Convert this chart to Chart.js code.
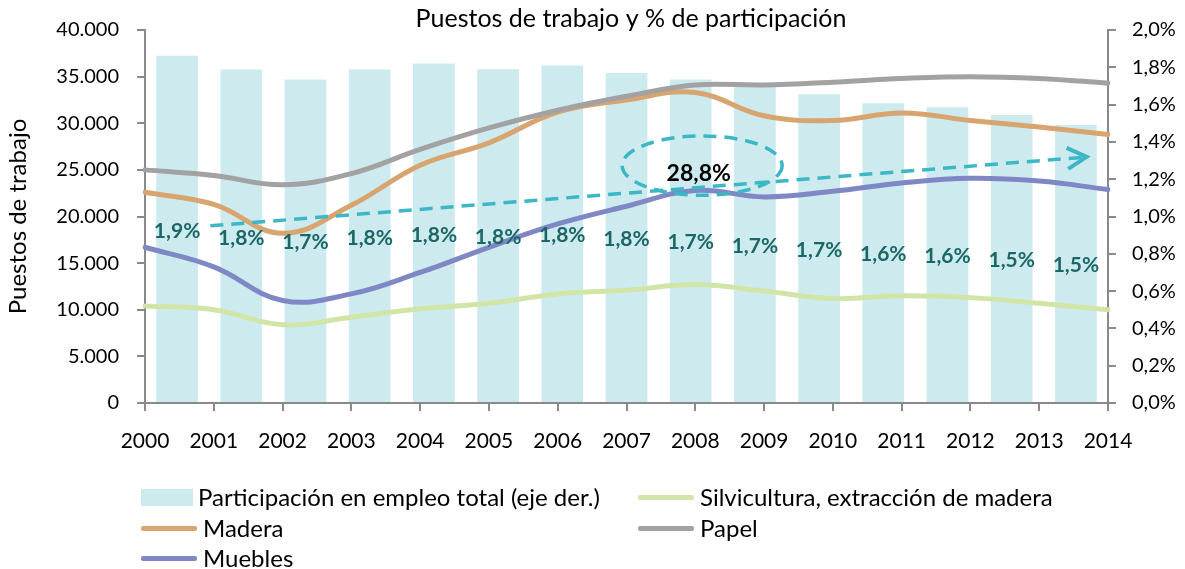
<!DOCTYPE html>
<html>
<head>
<meta charset="utf-8">
<script src="https://cdn.jsdelivr.net/npm/chart.js@4"></script>
<style>
  body { margin: 0; background: #fff; }
  #wrap { position: relative; width: 1185px; height: 569px; }
  #legend { position: absolute; left: 0; top: 0; width: 1185px; height: 569px; pointer-events: none;
            font-family: Lato, "Open Sans", sans-serif; font-size: 24px; color: #000; }
  .item { position: absolute; display: flex; align-items: center; white-space: nowrap; line-height: 28px; }
  .sw-bar { width: 52px; height: 17px; margin-right: 5px; }
  .sw-line { width: 56px; height: 5px; margin-right: 6px; border-radius: 2px; }
</style>
</head>
<body>
<div id="wrap">
  <canvas id="chart" width="1185" height="569"></canvas>
  <div id="legend"></div>
</div>
<script>
// Data
const years = ['2000', '2001', '2002', '2003', '2004', '2005', '2006', '2007', '2008', '2009', '2010', '2011', '2012', '2013', '2014'];
const participacion = [1.862, 1.788, 1.735, 1.788, 1.82, 1.79, 1.81, 1.77, 1.735, 1.698, 1.655, 1.607, 1.586, 1.544, 1.49];
const silvicultura = [10400, 10000, 8400, 9200, 10100, 10700, 11700, 12100, 12700, 12000, 11200, 11500, 11300, 10700, 10000];
const madera = [22600, 21300, 18200, 21200, 25500, 27900, 31200, 32500, 33300, 30800, 30300, 31100, 30300, 29600, 28800];
const papel = [25000, 24400, 23400, 24600, 27200, 29500, 31400, 32900, 34100, 34100, 34400, 34800, 35000, 34800, 34300];
const muebles = [16700, 14600, 11000, 11700, 14000, 16700, 19200, 21100, 22800, 22100, 22700, 23600, 24100, 23800, 22900];
const leftTicks = [0, 5000, 10000, 15000, 20000, 25000, 30000, 35000, 40000];
const rightTicks = [0, 0.2, 0.4, 0.6, 0.8, 1.0, 1.2, 1.4, 1.6, 1.8, 2.0];

// Annotation in data units (x = year index, y = left axis)
const trendArrow = { x0: 0.95, y0: 19000, x1: 13.69, y1: 26400 };
const highlight = { x: 8.1, y: 25460, rx: 1.163, ry: 3180, label: '28,8%', labelX: 8.05, labelY: 24550 };

const FONT = 'Lato, "Open Sans", sans-serif';
const AXIS = '#898989';
const TEAL = '#3bb7c6';

const colors = {
    bar: '#cdebef',
    silvicultura: '#d1e5a8',
    madera: '#d8a46f',
    papel: '#a2a2a2',
    muebles: '#7f88c4'
};

const fmtMiles = v => v.toString().replace(/\B(?=(\d{3})+(?!\d))/g, '.');
const fmtPct = v => v.toFixed(1).replace('.', ',') + '%';

// Bar labels, title, arrow and ellipse
const overlay = {
    id: 'overlay',
    afterDatasetsDraw(chart) {
        const ctx = chart.ctx;
        const meta = chart.getDatasetMeta(0);
        ctx.save();
        ctx.fillStyle = '#1c6765';
        ctx.font = 'bold 21px ' + FONT;
        ctx.textAlign = 'center';
        ctx.textBaseline = 'middle';
        meta.data.forEach((el, i) => {
            const p = el.getProps(['x', 'y', 'base'], true);
            ctx.fillText(fmtPct(participacion[i]), p.x, (p.y + p.base) / 2 + 2);
        });

        const xs = chart.scales.x, ys = chart.scales.y;
        ctx.strokeStyle = TEAL;
        ctx.lineWidth = 3.5;
        ctx.setLineDash([13, 8]);
        const ax0 = xs.getPixelForValue(trendArrow.x0), ay0 = ys.getPixelForValue(trendArrow.y0);
        const ax1 = xs.getPixelForValue(trendArrow.x1), ay1 = ys.getPixelForValue(trendArrow.y1);
        ctx.beginPath();
        ctx.moveTo(ax0, ay0);
        ctx.lineTo(ax1 - 4, ay1 + 0.5);
        ctx.stroke();

        // ellipse
        const cx = xs.getPixelForValue(highlight.x), cy = ys.getPixelForValue(highlight.y);
        const rx = xs.getPixelForValue(highlight.x + highlight.rx) - cx;
        const ry = cy - ys.getPixelForValue(highlight.y + highlight.ry);
        ctx.beginPath();
        ctx.ellipse(cx, cy, rx, ry, 0, 0, Math.PI * 2);
        ctx.stroke();

        // arrow head
        ctx.setLineDash([]);
        const ang = Math.atan2(ay1 - ay0, ax1 - ax0);
        ctx.lineWidth = 4;
        ctx.beginPath();
        ctx.moveTo(ax1 - 22 * Math.cos(ang - 0.5), ay1 - 22 * Math.sin(ang - 0.5));
        ctx.lineTo(ax1, ay1);
        ctx.lineTo(ax1 - 22 * Math.cos(ang + 0.5), ay1 - 22 * Math.sin(ang + 0.5));
        ctx.stroke();

        ctx.fillStyle = '#000';
        ctx.font = 'bold 23px ' + FONT;
        ctx.fillText(highlight.label, xs.getPixelForValue(highlight.labelX), ys.getPixelForValue(highlight.labelY));

        // title
        ctx.font = '25px ' + FONT;
        ctx.fillText('Puestos de trabajo y % de participación', 631, 19);
        ctx.restore();
    }
};

const ctx = document.getElementById('chart').getContext('2d');
const chart = new Chart(ctx, {
    type: 'bar',
    data: {
        labels: years,
        datasets: [
            {
                type: 'bar',
                label: 'Participación en empleo total (eje der.)',
                data: participacion,
                backgroundColor: colors.bar,
                xAxisID: 'x2',
                yAxisID: 'y1',
                grouped: false,
                barPercentage: 0.65,
                categoryPercentage: 1,
                order: 10
            },
            { type: 'line', label: 'Silvicultura, extracción de madera', data: silvicultura, borderColor: colors.silvicultura, order: 4 },
            { type: 'line', label: 'Madera', data: madera, borderColor: colors.madera, order: 3 },
            { type: 'line', label: 'Papel', data: papel, borderColor: colors.papel, order: 1 },
            { type: 'line', label: 'Muebles', data: muebles, borderColor: colors.muebles, order: 2 }
        ]
    },
    options: {
        responsive: false,
        animation: false,
        layout: { padding: { left: 0, right: 0, top: 26, bottom: 106 } },
        elements: {
            line: { borderWidth: 5, tension: 0.4, fill: false, borderCapStyle: 'round' },
            point: { radius: 0, hoverRadius: 0 }
        },
        scales: {
            x: {
                type: 'category',
                offset: false,
                grid: { offset: false, drawOnChartArea: false, color: AXIS, lineWidth: 2, tickLength: 8 },
                border: { color: AXIS, width: 2 },
                ticks: { color: '#000', font: { family: FONT, size: 21 }, padding: 18, maxRotation: 0, autoSkip: false },
                afterFit: s => { s.height = 60; }
            },
            x2: {
                type: 'category',
                offset: true,
                display: false,
                labels: years
            },
            y: {
                position: 'left',
                min: 0,
                max: 40000,
                afterBuildTicks: s => { s.ticks = leftTicks.map(v => ({ value: v })); },
                grid: { drawOnChartArea: false, color: AXIS, lineWidth: 2, tickLength: 8 },
                border: { color: AXIS, width: 2 },
                ticks: { color: '#000', font: { family: FONT, size: 20 }, padding: 18, callback: v => fmtMiles(v) },
                title: { display: true, text: 'Puestos de trabajo', color: '#000', font: { family: FONT, size: 24 }, padding: { top: 4, bottom: 0 } },
                afterFit: s => { s.width = 145; }
            },
            y1: {
                position: 'right',
                min: 0,
                max: 2.0,
                afterBuildTicks: s => { s.ticks = rightTicks.map(v => ({ value: v })); },
                grid: { drawOnChartArea: false, color: AXIS, lineWidth: 2, tickLength: 8 },
                border: { color: AXIS, width: 2 },
                ticks: { color: '#000', font: { family: FONT, size: 20 }, padding: 16, callback: v => fmtPct(v) },
                afterFit: s => { s.width = 77; }
            }
        },
        plugins: {
            legend: { display: false },
            title: { display: false },
            tooltip: { enabled: false }
        }
    },
    plugins: [overlay]
});

// HTML legend in two columns, like the original
const legendItems = [
    { i: 0, left: 141, top: 497, bar: true },
    { i: 1, left: 638, top: 497 },
    { i: 2, left: 141, top: 528 },
    { i: 3, left: 638, top: 528 },
    { i: 4, left: 141, top: 558 }
];
const legendEl = document.getElementById('legend');
legendItems.forEach(it => {
    const ds = chart.data.datasets[it.i];
    const div = document.createElement('div');
    div.className = 'item';
    div.style.left = it.left + 'px';
    div.style.top = (it.top - 14) + 'px';
    const sw = document.createElement('span');
    sw.className = it.bar ? 'sw-bar' : 'sw-line';
    sw.style.background = it.bar ? ds.backgroundColor : ds.borderColor;
    const tx = document.createElement('span');
    tx.textContent = ds.label;
    div.appendChild(sw);
    div.appendChild(tx);
    legendEl.appendChild(div);
});
</script>
</body>
</html>
